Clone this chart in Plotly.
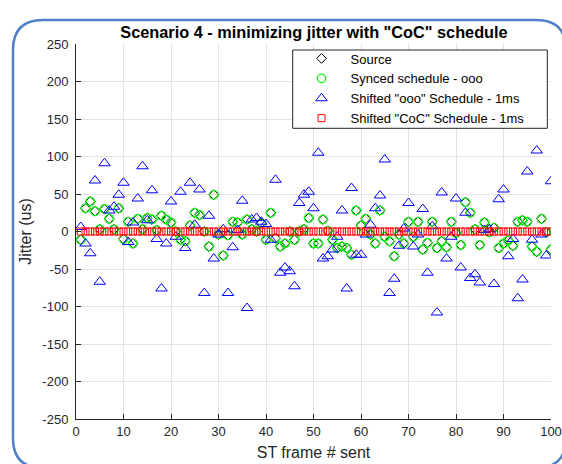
import plotly.graph_objects as go

# ---------------- data ----------------
frames = list(range(1, 101))

synced_ooo = [
    -11, 31, 40, 27, 3, 30, 17, 3, 31, -10,
    13, -16, 17, 3, 18, 16, 2, 21, 16, 12,
    0, -11, -13, 8, 25, 22, 0, -20, 49, -4,
    -32, -5, 13, 12, -4, 16, 3, 0, 11, -11,
    25, -9, -20, -16, 0, -11, 0, 3, 18, -16,
    -16, 16, 1, -11, -22, -20, -22, -31, 28, 8,
    17, -4, -16, 28, -7, -13, -33, -4, -16, 13,
    -7, 13, -24, -15, 13, -22, -13, -21, 13, -2,
    -18, 39, 25, 3, -18, 12, -1, 5, -22, -16,
    -12, -19, 13, 15, 13, -20, -27, 17, -1, -24,
]

source = list(synced_ooo)

shifted_ooo = [
    6, -16, -29, 68, -67, 91, 28, 33, 49, 65,
    -14, 12, 44, 87, 15, 55, -10, -76, -16, 40,
    -7, 53, -22, 65, 9, 56, -82, 21, -36, -4,
    3, -82, -21, 2, 41, -102, 16, 18, 13, 10,
    -11, 69, -55, -48, -53, -73, 38, 49, 53, 31,
    105, -36, -33, -24, -7, 28, -76, 58, -31, -31,
    -4, 9, 31, 48, 96, -82, -63, -19, 4, 38,
    -20, -4, 30, -55, 7, -108, 52, -36, -7, 44,
    -48, 25, -62, -57, -68, 2, 3, -70, 43, 56,
    -33, -10, -89, -64, 80, -11, 108, -4, -32, 67,
]

shifted_coc = [
    0, 0, 0, 0, 0, 0, 0, 0, 0, 0,
    0, 0, 0, 0, 0, 0, 0, 0, 0, 0,
    0, 0, 0, 0, 0, 0, 0, 0, 0, 0,
    0, 0, 0, 0, 0, 0, 0, 0, 0, 0,
    0, 0, 0, 0, 0, 0, 0, 0, 0, 0,
    0, 0, 0, 0, 0, 0, 0, 0, 0, 0,
    0, 0, 0, 0, 0, 0, 0, 0, 0, 0,
    0, 0, 0, 0, 0, 0, 0, 0, 0, 0,
    0, 0, 0, 0, 0, 0, 0, 0, 0, 0,
    0, 0, 0, 0, 0, 0, 0, 0, 0, 0,
]

x_ticks = [0, 10, 20, 30, 40, 50, 60, 70, 80, 90, 100]
y_ticks = [-250, -200, -150, -100, -50, 0, 50, 100, 150, 200, 250]

# ---------------- figure ----------------
W, H = 562, 464
ML, MR, MT, MB = 76, 11, 44, 45
FONT = "Liberation Sans, Arial, sans-serif"
AXC = "#262626"

fig = go.Figure()
fig.add_trace(go.Scatter(
    x=frames, y=source, mode="markers", name="Source",
    marker=dict(symbol="diamond-open", size=7.5, color="black", line=dict(width=1))))
fig.add_trace(go.Scatter(
    x=frames, y=synced_ooo, mode="markers", name="Synced schedule - ooo",
    marker=dict(symbol="circle-open", size=8.5, color="#00ff00", line=dict(width=1.2))))
fig.add_trace(go.Scatter(
    x=frames, y=shifted_ooo, mode="markers", name='Shifted "ooo" Schedule - 1ms',
    marker=dict(symbol="triangle-up-open", size=10, color="#0000ff", line=dict(width=1))))
fig.add_trace(go.Scatter(
    x=frames, y=shifted_coc, mode="markers", name='Shifted "CoC" Schedule - 1ms',
    marker=dict(symbol="square-open", size=7, color="#ff0000", line=dict(width=1))))

pw = W - ML - MR
ph = H - MT - MB


def px(xp):
    return (xp - ML) / pw


def py(yp):
    return (H - MB - yp) / ph


# rounded blue frame around the figure
L, R, T, B, rad = 13, 566, 20, 468, 30
rx, ry = rad / pw, rad / ph
path = (
    f"M {px(L)},{py(T) - ry} "
    f"Q {px(L)},{py(T)} {px(L) + rx},{py(T)} "
    f"L {px(R) - rx},{py(T)} "
    f"Q {px(R)},{py(T)} {px(R)},{py(T) - ry} "
    f"L {px(R)},{py(B) + ry} "
    f"Q {px(R)},{py(B)} {px(R) - rx},{py(B)} "
    f"L {px(L) + rx},{py(B)} "
    f"Q {px(L)},{py(B)} {px(L)},{py(B) + ry} Z"
)
fig.add_shape(type="path", xref="paper", yref="paper", path=path,
              line=dict(color="#4f81c8", width=2.5), layer="below")

# legend box (white, black outline) drawn above the data, under the legend text
fig.add_shape(type="rect", xref="paper", yref="paper",
              x0=px(292.7), x1=px(547.3), y0=py(128.3), y1=py(50),
              fillcolor="white", line=dict(color=AXC, width=1), layer="above")

fig.update_layout(
    width=W, height=H,
    margin=dict(l=ML, r=MR, t=MT, b=MB, pad=0),
    paper_bgcolor="white", plot_bgcolor="white",
    font=dict(family=FONT, color=AXC, size=13),
    title=dict(text='Scenario 4 - minimizing jitter with "CoC" schedule',
               x=(314 / W), xanchor="center", y=1 - 32 / H, yanchor="middle",
               font=dict(family=FONT, size=16.3, color="black", weight="bold")),
    legend=dict(x=px(292.5), y=py(43.5), xanchor="left", yanchor="top",
                bgcolor="rgba(0,0,0,0)", borderwidth=0,
                font=dict(family=FONT, size=13, color="black"),
                itemwidth=48, tracegroupgap=0),
    showlegend=True,
)
fig.update_xaxes(
    range=[0, 100], tickvals=x_ticks, ticktext=[str(v) for v in x_ticks],
    showgrid=True, gridcolor="#e3e3e3", gridwidth=1, zeroline=False,
    showline=True, linecolor=AXC, linewidth=1, mirror=False,
    ticks="inside", ticklen=5, tickcolor=AXC,
    tickfont=dict(family=FONT, size=13, color=AXC),
    title=dict(text="ST frame # sent", font=dict(family=FONT, size=16, color=AXC), standoff=9),
    automargin=False,
)
fig.update_yaxes(
    range=[-250, 250], tickvals=y_ticks, ticktext=[str(v) for v in y_ticks],
    showgrid=True, gridcolor="#e3e3e3", gridwidth=1, zeroline=False,
    showline=True, linecolor=AXC, linewidth=1, mirror=False,
    ticks="inside", ticklen=5, tickcolor=AXC, ticklabelstandoff=4,
    tickfont=dict(family=FONT, size=13, color=AXC),
    title=dict(text="Jitter (us)", font=dict(family=FONT, size=16, color=AXC), standoff=6),
    automargin=False,
)

fig.write_html(
    "out.html",
    config={"displayModeBar": False},
    post_script="document.body.style.margin='0';document.body.style.overflow='hidden';",
)
